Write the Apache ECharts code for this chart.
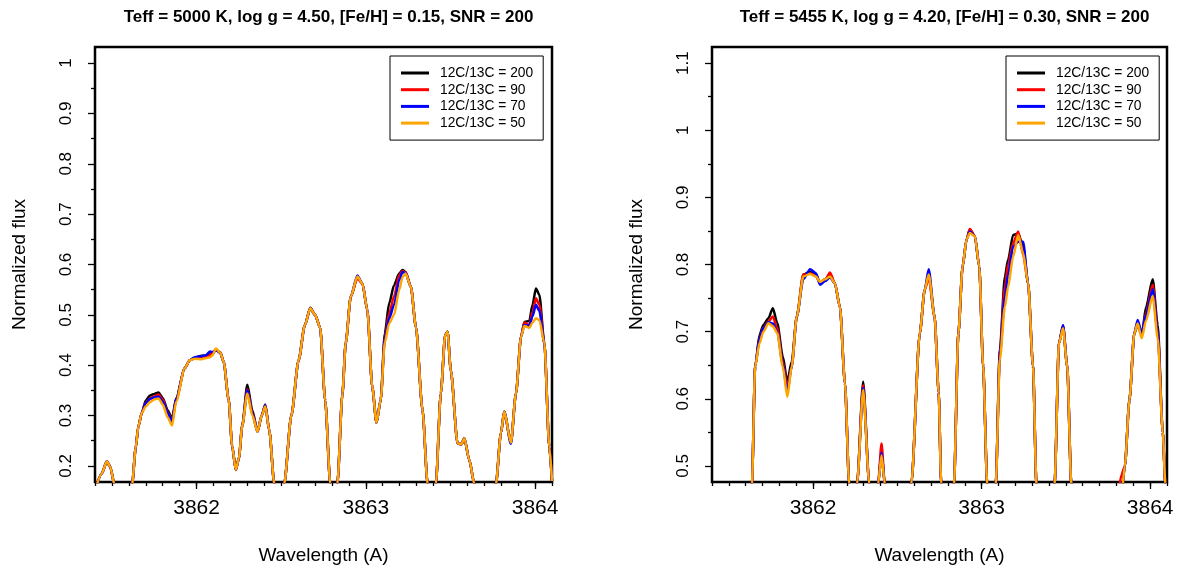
<!DOCTYPE html>
<html>
<head>
<meta charset="utf-8">
<script src="https://cdn.jsdelivr.net/npm/echarts@6/dist/echarts.min.js"></script>
<style>
html,body{margin:0;padding:0;background:#fff;}
#chart{width:1184px;height:574px;}
</style>
</head>
<body>
<div id="chart"></div>
<script>
// ---------- data ----------
const titleLeft = 'Teff = 5000 K, log g = 4.50, [Fe/H] = 0.15, SNR = 200';
const titleRight = 'Teff = 5455 K, log g = 4.20, [Fe/H] = 0.30, SNR = 200';
const seriesNames = ['12C/13C = 200', '12C/13C = 90', '12C/13C = 70', '12C/13C = 50'];
const seriesColors = ['#000000', '#ff0000', '#0000ff', '#ffa500'];

const xTicksMajor = [3862, 3863, 3864];
const xTicksMinor = [3861.4,3861.5,3861.6,3861.7,3861.8,3861.9,3862.0,3862.1,3862.2,3862.3,3862.4,3862.5,3862.6,3862.7,3862.8,3862.9,3863.0,3863.1,3863.2,3863.3,3863.4,3863.5,3863.6,3863.7,3863.8,3863.9,3864.0,3864.1];
const yTicksLeft = [0.2, 0.3, 0.4, 0.5, 0.6, 0.7, 0.8, 0.9, 1];
const yMinorLeft = [0.25, 0.35, 0.45, 0.55, 0.65, 0.75, 0.85, 0.95];
const yTicksRight = [0.5, 0.6, 0.7, 0.8, 0.9, 1, 1.1];
const yMinorRight = [0.55, 0.65, 0.75, 0.85, 0.95, 1.05];

const wlL = [3861.40,3861.44,3861.47,3861.49,3861.515,3861.57,3861.62,3861.64,3861.656,3861.676,
3861.70,3861.725,3861.75,3861.775,3861.80,3861.83,3861.855,3861.88,3861.93,3861.96,
3861.99,3862.03,3862.055,3862.08,3862.095,3862.114,3862.14,3862.16,3862.19,3862.21,
3862.232,3862.25,3862.27,3862.30,3862.33,3862.36,3862.385,3862.406,3862.43,3862.459,
3862.49,3862.518,3862.56,3862.603,3862.64,3862.672,3862.70,3862.73,3862.76,3862.79,
3862.81,3862.832,3862.862,3862.881,3862.911,3862.95,3862.98,3863.009,3863.038,3863.063,
3863.088,3863.112,3863.138,3863.167,3863.197,3863.217,3863.235,3863.266,3863.296,3863.335,
3863.365,3863.39,3863.414,3863.443,3863.469,3863.483,3863.502,3863.542,3863.565,3863.582,
3863.611,3863.641,3863.70,3863.769,3863.798,3863.818,3863.857,3863.887,3863.917,3863.937,
3863.966,3863.985,3864.005,3864.025,3864.055,3864.084,3864.10];

const fluxL200 = [0.15,0.185,0.209,0.198,0.163,0.09,0.165,0.235,0.278,0.305,
0.33,0.34,0.343,0.346,0.335,0.31,0.294,0.335,0.394,0.41,
0.415,0.419,0.419,0.425,0.424,0.43,0.425,0.407,0.331,0.24,
0.192,0.215,0.28,0.361,0.31,0.268,0.30,0.322,0.27,0.165,
0.09,0.165,0.30,0.41,0.48,0.514,0.50,0.475,0.33,0.165,
0.12,0.165,0.344,0.4435,0.536,0.575,0.562,0.5095,0.357,0.286,
0.331,0.463,0.523,0.559,0.582,0.589,0.585,0.556,0.476,0.311,
0.165,0.12,0.165,0.344,0.46,0.4665,0.39,0.245,0.243,0.255,
0.212,0.165,0.09,0.165,0.265,0.3078,0.246,0.344,0.4566,0.486,
0.488,0.52,0.5525,0.54,0.4435,0.238,0.17];

const fluxL90 = [0.15,0.185,0.209,0.198,0.163,0.09,0.165,0.235,0.278,0.305,
0.326,0.334,0.338,0.342,0.332,0.306,0.29,0.333,0.394,0.41,
0.414,0.414,0.416,0.42,0.425,0.431,0.425,0.407,0.331,0.24,
0.192,0.215,0.28,0.352,0.305,0.268,0.30,0.32,0.27,0.165,
0.09,0.165,0.30,0.41,0.48,0.513,0.50,0.475,0.33,0.165,
0.12,0.165,0.344,0.4435,0.536,0.572,0.562,0.5095,0.357,0.286,
0.331,0.455,0.503,0.537,0.579,0.587,0.584,0.556,0.476,0.311,
0.165,0.12,0.165,0.344,0.46,0.4665,0.39,0.245,0.243,0.255,
0.212,0.165,0.09,0.165,0.265,0.3078,0.246,0.344,0.4566,0.485,
0.48,0.505,0.533,0.52,0.4435,0.238,0.17];

const fluxL70 = [0.15,0.185,0.209,0.198,0.163,0.09,0.165,0.235,0.278,0.305,
0.325,0.333,0.336,0.338,0.328,0.305,0.288,0.333,0.394,0.41,
0.416,0.418,0.42,0.427,0.426,0.43,0.425,0.407,0.331,0.24,
0.192,0.215,0.28,0.35,0.303,0.268,0.30,0.32,0.27,0.165,
0.09,0.165,0.30,0.41,0.48,0.513,0.50,0.475,0.33,0.165,
0.12,0.165,0.344,0.4435,0.536,0.578,0.562,0.5095,0.357,0.286,
0.331,0.452,0.493,0.52,0.569,0.585,0.583,0.556,0.476,0.311,
0.165,0.12,0.165,0.344,0.46,0.4665,0.39,0.245,0.243,0.255,
0.212,0.165,0.09,0.165,0.265,0.3078,0.244,0.344,0.4566,0.48,
0.478,0.497,0.52,0.508,0.4435,0.238,0.17];

const fluxL50 = [0.15,0.185,0.209,0.198,0.163,0.09,0.165,0.235,0.278,0.305,
0.318,0.327,0.332,0.334,0.322,0.296,0.28,0.328,0.394,0.41,
0.413,0.412,0.414,0.416,0.42,0.433,0.425,0.407,0.331,0.24,
0.192,0.215,0.28,0.344,0.3,0.268,0.30,0.318,0.27,0.165,
0.09,0.165,0.30,0.41,0.48,0.513,0.50,0.475,0.33,0.165,
0.12,0.165,0.344,0.4435,0.536,0.576,0.562,0.5095,0.357,0.286,
0.331,0.445,0.483,0.50,0.549,0.575,0.582,0.556,0.476,0.311,
0.165,0.12,0.165,0.344,0.46,0.4665,0.39,0.245,0.243,0.255,
0.212,0.165,0.09,0.165,0.265,0.3078,0.246,0.344,0.4566,0.478,
0.474,0.485,0.493,0.49,0.4435,0.238,0.17];

const wlR = [3861.40,3861.60,3861.637,3861.656,3861.682,3861.705,3861.735,3861.761,3861.787,3861.82,
3861.847,3861.873,3861.903,3861.942,3861.982,3862.017,3862.041,3862.07,3862.10,3862.129,
3862.159,3862.189,3862.214,3862.24,3862.261,3862.297,3862.333,3862.36,3862.386,3862.406,
3862.425,3862.50,3862.583,3862.633,3862.662,3862.686,3862.721,3862.745,3862.76,3862.80,
3862.836,3862.862,3862.887,3862.911,3862.93,3862.96,3862.986,3863.009,3863.033,3863.06,
3863.084,3863.108,3863.138,3863.157,3863.187,3863.217,3863.246,3863.276,3863.305,3863.325,
3863.38,3863.433,3863.459,3863.483,3863.508,3863.532,3863.65,3863.80,3863.829,3863.85,
3863.877,3863.906,3863.926,3863.95,3863.976,3864.015,3864.045,3864.075,3864.09,3864.10];

const fluxR200 = [0.40,0.40,0.474,0.648,0.695,0.71,0.72,0.735,0.713,0.663,
0.6254,0.655,0.7224,0.785,0.789,0.785,0.772,0.778,0.785,0.772,
0.737,0.623,0.474,0.42,0.474,0.6254,0.474,0.42,0.474,0.521,
0.474,0.40,0.474,0.6976,0.762,0.785,0.722,0.61,0.474,0.42,
0.474,0.6976,0.797,0.838,0.852,0.842,0.797,0.648,0.474,0.42,
0.474,0.6727,0.782,0.807,0.844,0.846,0.827,0.772,0.648,0.474,
0.40,0.474,0.6827,0.708,0.648,0.474,0.38,0.44,0.455,0.50,
0.598,0.6976,0.71,0.695,0.737,0.778,0.71,0.55,0.474,0.44];

const fluxR90 = [0.40,0.40,0.474,0.648,0.69,0.706,0.715,0.7225,0.705,0.655,
0.618,0.648,0.7224,0.785,0.787,0.783,0.772,0.776,0.788,0.772,
0.737,0.623,0.474,0.42,0.474,0.62,0.474,0.42,0.474,0.5334,
0.474,0.40,0.474,0.6976,0.762,0.78,0.722,0.61,0.474,0.42,
0.474,0.6976,0.797,0.838,0.853,0.842,0.797,0.648,0.474,0.42,
0.474,0.668,0.767,0.80,0.832,0.849,0.815,0.772,0.648,0.474,
0.40,0.474,0.6827,0.708,0.648,0.474,0.38,0.44,0.486,0.50,
0.598,0.6976,0.712,0.695,0.728,0.77,0.70,0.55,0.474,0.44];

const fluxR70 = [0.40,0.40,0.474,0.648,0.69,0.705,0.714,0.712,0.70,0.652,
0.61,0.648,0.7224,0.778,0.793,0.787,0.77,0.775,0.781,0.772,
0.737,0.623,0.474,0.42,0.474,0.616,0.474,0.42,0.474,0.52,
0.474,0.40,0.474,0.6976,0.762,0.793,0.722,0.61,0.474,0.42,
0.474,0.6976,0.797,0.838,0.849,0.842,0.797,0.648,0.474,0.42,
0.474,0.665,0.752,0.785,0.827,0.834,0.834,0.772,0.648,0.474,
0.40,0.474,0.6827,0.71,0.648,0.474,0.38,0.44,0.455,0.50,
0.598,0.6976,0.7175,0.698,0.725,0.763,0.698,0.55,0.474,0.44];

const fluxR50 = [0.40,0.40,0.474,0.648,0.683,0.70,0.7125,0.708,0.698,0.648,
0.603,0.648,0.7224,0.782,0.786,0.782,0.774,0.778,0.782,0.772,
0.737,0.623,0.474,0.42,0.474,0.613,0.474,0.42,0.474,0.516,
0.474,0.40,0.474,0.6976,0.762,0.785,0.722,0.61,0.474,0.42,
0.474,0.6976,0.797,0.838,0.847,0.842,0.797,0.648,0.474,0.42,
0.474,0.658,0.737,0.767,0.812,0.844,0.817,0.772,0.648,0.474,
0.40,0.474,0.6827,0.705,0.648,0.474,0.38,0.44,0.455,0.50,
0.598,0.6976,0.712,0.69,0.717,0.753,0.69,0.55,0.474,0.44];

// ---------- chart ----------
const FONT = "'Liberation Sans', Arial, sans-serif";
const chart = echarts.init(document.getElementById('chart'), null, {renderer: 'canvas'});

const fluxLeft = [fluxL200, fluxL90, fluxL70, fluxL50];
const fluxRight = [fluxR200, fluxR90, fluxR70, fluxR50];

function pairs(wl, fl) { return wl.map((w, i) => [w, fl[i]]); }

const grids = [
  {left: 95, top: 47, width: 457, height: 435},
  {left: 712, top: 47, width: 455, height: 435}
];
const yRanges = [[0.168, 1.032], [0.476, 1.124]];
const yMajor = [yTicksLeft, yTicksRight];
const yMinor = [yMinorLeft, yMinorRight];

const xAxes = [], yAxes = [], series = [];
grids.forEach((g, gi) => {
  xAxes.push({
    gridIndex: gi, type: 'value', position: 'bottom', min: 3861.4, max: 3864.1,
    axisLine: {show: false}, splitLine: {show: false},
    axisTick: {show: true, customValues: xTicksMajor, length: 7, lineStyle: {color: '#000', width: 1.3}},
    axisLabel: {customValues: xTicksMajor, formatter: v => String(v), fontSize: 21, color: '#000', fontFamily: FONT, margin: 16},
    name: 'Wavelength (A)', nameLocation: 'middle', nameGap: 64,
    nameTextStyle: {fontSize: 19, color: '#000', fontFamily: FONT}
  });
  xAxes.push({
    gridIndex: gi, type: 'value', position: 'bottom', min: 3861.4, max: 3864.1,
    axisLine: {show: false}, splitLine: {show: false}, axisLabel: {show: false},
    axisTick: {show: true, customValues: xTicksMinor, length: 4, lineStyle: {color: '#000', width: 1.3}}
  });
  yAxes.push({
    gridIndex: gi, type: 'value', position: 'left', min: yRanges[gi][0], max: yRanges[gi][1],
    axisLine: {show: false}, splitLine: {show: false},
    axisTick: {show: true, customValues: yMajor[gi], length: 7, lineStyle: {color: '#000', width: 1.3}},
    axisLabel: {customValues: yMajor[gi], formatter: v => String(v), rotate: 90, fontSize: 17, color: '#000', fontFamily: FONT, margin: 20},
    name: 'Normalized flux', nameLocation: 'middle', nameGap: 66,
    nameTextStyle: {fontSize: 19, color: '#000', fontFamily: FONT}
  });
  yAxes.push({
    gridIndex: gi, type: 'value', position: 'left', min: yRanges[gi][0], max: yRanges[gi][1],
    axisLine: {show: false}, splitLine: {show: false}, axisLabel: {show: false},
    axisTick: {show: true, customValues: yMinor[gi], length: 4, lineStyle: {color: '#000', width: 1.3}}
  });
  const wl = gi === 0 ? wlL : wlR;
  const fl = gi === 0 ? fluxLeft : fluxRight;
  seriesNames.forEach((name, si) => {
    series.push({
      type: 'line', name: name, xAxisIndex: gi * 2, yAxisIndex: gi * 2,
      data: pairs(wl, fl[si]), showSymbol: false, symbol: 'none',
      smooth: 0.25, smoothMonotone: 'x', clip: true,
      lineStyle: {color: seriesColors[si], width: 2.5},
      itemStyle: {color: seriesColors[si]},
      animation: false, z: 2 + si
    });
  });
});

const legendBase = {
  orient: 'vertical', data: seriesNames, selectedMode: false,
  icon: 'rect', itemWidth: 28, itemHeight: 3, itemGap: 2.7,
  borderColor: '#000', borderWidth: 1, borderRadius: 0,
  padding: [10, 10, 10, 11],
  backgroundColor: '#fff',
  textStyle: {fontSize: 13.8, lineHeight: 14, color: '#000', fontFamily: FONT, padding: [0, 0, 0, 6]}
};

chart.setOption({
  animation: false,
  backgroundColor: '#ffffff',
  title: [
    {text: titleLeft, left: 323.5, top: 4, textAlign: 'center',
     textStyle: {fontSize: 17, fontWeight: 'bold', color: '#000', fontFamily: FONT}},
    {text: titleRight, left: 939.5, top: 4, textAlign: 'center',
     textStyle: {fontSize: 17, fontWeight: 'bold', color: '#000', fontFamily: FONT}}
  ],
  legend: [
    Object.assign({}, legendBase, {left: 390, top: 56}),
    Object.assign({}, legendBase, {left: 1006, top: 56})
  ],
  grid: grids.map(g => Object.assign({show: true, borderColor: '#000', borderWidth: 2.5, backgroundColor: 'transparent'}, g)),
  xAxis: xAxes,
  yAxis: yAxes,
  series: series
});
</script>
</body>
</html>
